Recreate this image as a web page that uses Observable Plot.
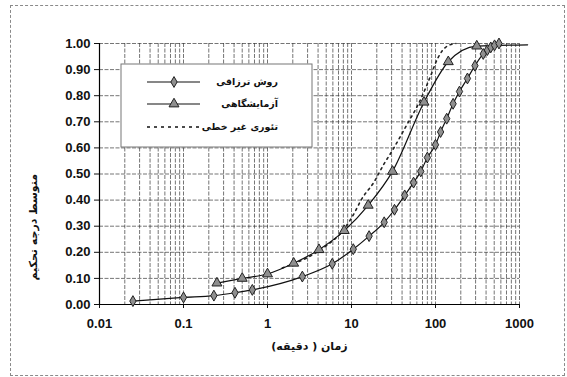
<!DOCTYPE html>
<html><head><meta charset="utf-8">
<script src="https://cdn.jsdelivr.net/npm/d3@7"></script>
<script src="https://cdn.jsdelivr.net/npm/@observablehq/plot@0.6"></script>
<style>
body{margin:0;background:#fff;}
#wrap{position:relative;width:567px;height:377px;overflow:hidden;}
#wrap svg{position:absolute;left:0;top:0;background:transparent;}
#border{position:absolute;left:10px;top:5px;width:553px;height:369px;border:1px dashed #8a8a8a;pointer-events:none;}
</style></head><body>
<div id="wrap"></div>
<script>
// ---- data ----
const seriesNames = ["روش ترزاقی", "آزمایشگاهی", "تئوری غیر خطی"];

const terzaghiTime = [0.025, 0.1, 0.23, 0.41, 0.66, 2.6, 5.9, 10.5, 16.2, 24.5, 32.5, 43, 54.8, 66.8, 80, 100, 115, 136, 162, 193, 240, 295, 370, 415, 455, 505, 570];
const terzaghiU    = [0.013, 0.027, 0.034, 0.045, 0.056, 0.107, 0.156, 0.212, 0.262, 0.315, 0.363, 0.418, 0.467, 0.51, 0.563, 0.612, 0.661, 0.712, 0.769, 0.816, 0.866, 0.915, 0.96, 0.975, 0.985, 0.993, 1.0];

const labTime = [0.25, 0.5, 1.0, 2.05, 4.1, 8.2, 15.8, 30.8, 73, 142, 310, 1250];
const labU    = [0.082, 0.10, 0.117, 0.158, 0.21, 0.283, 0.38, 0.51, 0.775, 0.93, 0.99, 0.995];

const theoryTime = [1.5, 2, 3, 5, 8, 11, 13, 18.6, 24, 30, 45, 67, 88, 105, 138, 175];
const theoryU    = [0.14, 0.155, 0.18, 0.225, 0.285, 0.355, 0.40, 0.47, 0.535, 0.585, 0.685, 0.788, 0.878, 0.94, 0.99, 1.0];

const xTicks = [0.01, 0.1, 1, 10, 100, 1000];
const xTickLabels = ["0.01", "0.1", "1", "10", "100", "1000"];
const yTicks = [0, 0.1, 0.2, 0.3, 0.4, 0.5, 0.6, 0.7, 0.8, 0.9, 1.0];
const xTitle = "زمان ( دقیقه)";
const yTitle = "متوسط درجه تحکیم";

// ---- tables ----
const terzaghi = terzaghiTime.map((t, i) => ({t, u: terzaghiU[i]}));
const lab = labTime.map((t, i) => ({t, u: labU[i]}));
const theory = theoryTime.map((t, i) => ({t, u: theoryU[i]}));

const xDomain = [0.01, 1000];
const gridX = d3.scaleLog().domain(xDomain).ticks();
const font = "'Liberation Sans', Arial, sans-serif";
const faFont = "'DejaVu Sans', sans-serif";

const chart = Plot.plot({
  width: 567, height: 377,
  marginLeft: 99, marginRight: 48, marginTop: 43, marginBottom: 73,
  style: {fontFamily: font, fontSize: "13px", fontWeight: "bold", color: "#111", background: "transparent"},
  x: {type: "log", domain: xDomain},
  y: {domain: [0, 1]},
  marks: [
    Plot.ruleX(gridX, {stroke: "#333", strokeWidth: 0.8, strokeDasharray: "4,1.5", strokeOpacity: 0.85}),
    Plot.ruleY(yTicks, {stroke: "#333", strokeWidth: 0.8, strokeDasharray: "4,1.5", strokeOpacity: 0.85}),
    Plot.axisY({ticks: yTicks, tickFormat: d3.format(".2f"), tickSize: 5, tickPadding: 4, label: null, fontWeight: "bold", fontSize: 13}),
    Plot.axisX({ticks: xTicks, tickFormat: (d) => xTickLabels[xTicks.indexOf(d)], tickSize: 4, tickPadding: 10, label: null, fontWeight: "bold", fontSize: 13}),
    Plot.ruleX([0.01], {stroke: "#000", strokeWidth: 1.2}),
    Plot.ruleY([0], {stroke: "#000", strokeWidth: 1.2}),
    Plot.line(theory, {x: "t", y: "u", stroke: "#222", strokeWidth: 1.6, strokeDasharray: "2,4", curve: "monotone-x"}),
    Plot.line(lab, {x: "t", y: "u", stroke: "#111", strokeWidth: 1.2, curve: "monotone-x", clip: false}),
    Plot.line(terzaghi, {x: "t", y: "u", stroke: "#111", strokeWidth: 1.2, curve: "monotone-x"}),
    Plot.dot(lab.filter(d => d.t <= 1000), {x: "t", y: "u", symbol: "triangle", r: 3.7, fill: "#8f8f8f", stroke: "#222", strokeWidth: 1}),
    Plot.dot(terzaghi, {x: "t", y: "u", symbol: "diamond", r: 3.3, fill: "#8f8f8f", stroke: "#222", strokeWidth: 1}),
    Plot.text([xTitle], {frameAnchor: "bottom", dy: 45, fontFamily: faFont, fontSize: 11, fontWeight: "bold", fill: "#111", clip: false}),
    Plot.text([yTitle], {frameAnchor: "left", dx: -66, rotate: -90, fontFamily: faFont, fontSize: 11, fontWeight: "bold", fill: "#111", clip: false})
  ]
});

// ---- legend ----
const svg = d3.select(chart);
svg.selectAll("text").filter(function() { return /[\u0600-\u06FF]/.test(this.textContent); }).attr("direction", "rtl");
const lg = svg.append("g");
lg.append("rect").attr("x", 121).attr("y", 64).attr("width", 191).attr("height", 83)
  .attr("fill", "#fff").attr("stroke", "#777").attr("stroke-width", 1);
const rows = [
  {y: 82, type: "diamond"},
  {y: 104, type: "triangle"},
  {y: 127, type: "dotted"}
];
rows.forEach((r, i) => {
  const line = lg.append("line").attr("x1", 147).attr("x2", 200).attr("y1", r.y).attr("y2", r.y)
    .attr("stroke", "#111").attr("stroke-width", r.type === "dotted" ? 1.6 : 1.2);
  if (r.type === "dotted") line.attr("stroke-dasharray", "3,4");
  if (r.type !== "dotted") {
    const sym = d3.symbol().type(r.type === "diamond" ? d3.symbolDiamond : d3.symbolTriangle).size(r.type === "diamond" ? 34 : 43);
    lg.append("path").attr("d", sym()).attr("transform", `translate(174,${r.y})`)
      .attr("fill", "#8f8f8f").attr("stroke", "#222").attr("stroke-width", 1);
  }
  lg.append("text").attr("x", 278).attr("y", r.y).attr("dy", "0.35em").attr("text-anchor", "start")
    .attr("direction", "rtl")
    .attr("font-family", faFont).attr("font-size", 9.5).attr("font-weight", "bold").attr("fill", "#111")
    .text(seriesNames[i]);
});

const wrap = document.getElementById("wrap");
wrap.appendChild(chart);
const b = document.createElement("div"); b.id = "border"; wrap.appendChild(b);
</script>
</body></html>
